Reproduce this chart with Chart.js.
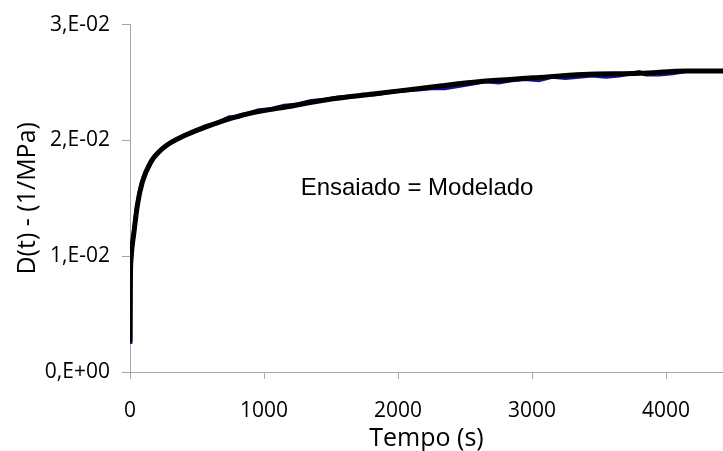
<!DOCTYPE html>
<html>
<head>
<meta charset="utf-8">
<script src="https://cdn.jsdelivr.net/npm/chart.js@4/dist/chart.umd.min.js"></script>
<style>
  html, body { margin: 0; padding: 0; background: #fff; }
  #wrap { width: 723px; height: 451px; }
</style>
</head>
<body>
<div id="wrap"><canvas id="myChart" width="723" height="451"></canvas></div>
<script>
// modelled curve (black)
var modelTime = [0, 3, 10, 30, 55, 92, 154, 254, 403, 552, 843, 1171, 1515, 1813, 2313, 2634, 3007, 3380, 3806, 4156, 4425];
var modelD = [0.0026, 0.0080, 0.0101, 0.0121, 0.0144, 0.0164, 0.0181, 0.0194, 0.0204, 0.0211, 0.0222, 0.0229, 0.0236, 0.0240, 0.0247, 0.0251, 0.0254, 0.0257, 0.0258, 0.0260, 0.0260];

// measured curve (blue), mostly hidden under the model
var testTime = [0, 3, 10, 20, 30, 45, 60, 80, 100, 130, 160, 200, 250, 300, 350, 400, 480, 560, 650, 740, 800, 880, 960, 1050, 1150, 1250, 1350, 1450, 1550, 1650, 1750, 1850, 1950, 2050, 2150, 2250, 2350, 2450, 2550, 2650, 2750, 2850, 2950, 3050, 3150, 3250, 3350, 3450, 3550, 3650, 3750, 3800, 3850, 3950, 4050, 4150, 4250, 4350, 4425];
var testD = [0.0026, 0.0078, 0.0102, 0.0113, 0.0122, 0.0137, 0.0148, 0.0160, 0.0168, 0.0176, 0.0183, 0.0188, 0.0194, 0.0198, 0.0201, 0.0204, 0.0208, 0.0212, 0.0215, 0.0220, 0.0220, 0.0223, 0.0226, 0.0227, 0.0230, 0.0231, 0.0234, 0.0235, 0.0237, 0.0238, 0.0239, 0.0240, 0.0242, 0.0243, 0.0244, 0.0245, 0.0245, 0.0247, 0.0249, 0.0251, 0.0250, 0.0252, 0.0253, 0.0252, 0.0255, 0.0254, 0.0255, 0.0256, 0.0255, 0.0256, 0.0258, 0.0259, 0.0257, 0.0257, 0.0258, 0.0260, 0.0260, 0.0260, 0.0260];

var xTicks = [0, 1000, 2000, 3000, 4000];
var yTicks = [0, 0.01, 0.02, 0.03];
var yTickLabels = ['0,E+00', '1,E-02', '2,E-02', '3,E-02'];

var noteText = 'Ensaiado = Modelado';
var notePos = {x: 2142, y: 0.01586};

function pairs(xs, ys) {
  var out = [];
  for (var i = 0; i < xs.length; i++) out.push({x: xs[i], y: ys[i]});
  return out;
}

var axisGray = '#a6a6a6';
var tickFont = {family: '"Open Sans", sans-serif', size: 21};
var titleFont = {family: '"Open Sans", sans-serif', size: 25};

// text in the middle of the plot
var notePlugin = {
  id: 'note',
  afterDatasetsDraw: function(chart) {
    var ctx = chart.ctx;
    var px = chart.scales.x.getPixelForValue(notePos.x);
    var py = chart.scales.y.getPixelForValue(notePos.y);
    ctx.save();
    ctx.font = '24px "Liberation Sans", Arial, sans-serif';
    ctx.fillStyle = '#000';
    ctx.textAlign = 'center';
    ctx.textBaseline = 'middle';
    ctx.fillText(noteText, px, py);
    ctx.restore();
  }
};

var ctx = document.getElementById('myChart').getContext('2d');
var chart = new Chart(ctx, {
  type: 'line',
  data: {
    datasets: [
      {
        label: 'Modelado',
        data: pairs(modelTime, modelD),
        borderColor: '#000000',
        borderWidth: 5,
        pointRadius: 0,
        cubicInterpolationMode: 'monotone',
        fill: false
      },
      {
        label: 'Ensaiado',
        data: pairs(testTime, testD),
        borderColor: '#14148c',
        borderWidth: 4,
        pointRadius: 0,
        tension: 0,
        fill: false
      }
    ]
  },
  options: {
    responsive: false,
    animation: false,
    layout: {padding: {top: 20, right: 0, left: 0, bottom: 0}},
    plugins: {legend: {display: false}, tooltip: {enabled: false}},
    scales: {
      x: {
        type: 'linear',
        min: 0,
        max: 4425,
        afterBuildTicks: function(scale) {
          scale.ticks = xTicks.map(function(v) { return {value: v}; });
        },
        afterFit: function(scale) { scale.height = 79; },
        ticks: {color: '#000', font: tickFont, padding: 19, maxRotation: 0,
          callback: function(v) { return String(v); }},
        grid: {drawOnChartArea: false, drawTicks: true, tickLength: 7, color: axisGray},
        border: {color: axisGray, width: 1},
        title: {display: true, text: 'Tempo (s)', color: '#000', font: titleFont, padding: {top: 0, bottom: -3}}
      },
      y: {
        type: 'linear',
        min: 0,
        max: 0.03,
        afterBuildTicks: function(scale) {
          scale.ticks = yTicks.map(function(v) { return {value: v}; });
        },
        afterFit: function(scale) { scale.width = 130; },
        ticks: {color: '#000', font: tickFont, padding: 12,
          callback: function(v) { return yTickLabels[yTicks.indexOf(v)]; }},
        grid: {drawOnChartArea: false, drawTicks: true, tickLength: 8, color: axisGray},
        border: {color: axisGray, width: 1},
        title: {display: true, text: 'D(t) - (1/MPa)', color: '#000', font: titleFont, padding: {top: 13, bottom: 0}}
      }
    }
  },
  plugins: [notePlugin]
});
</script>
</body>
</html>
